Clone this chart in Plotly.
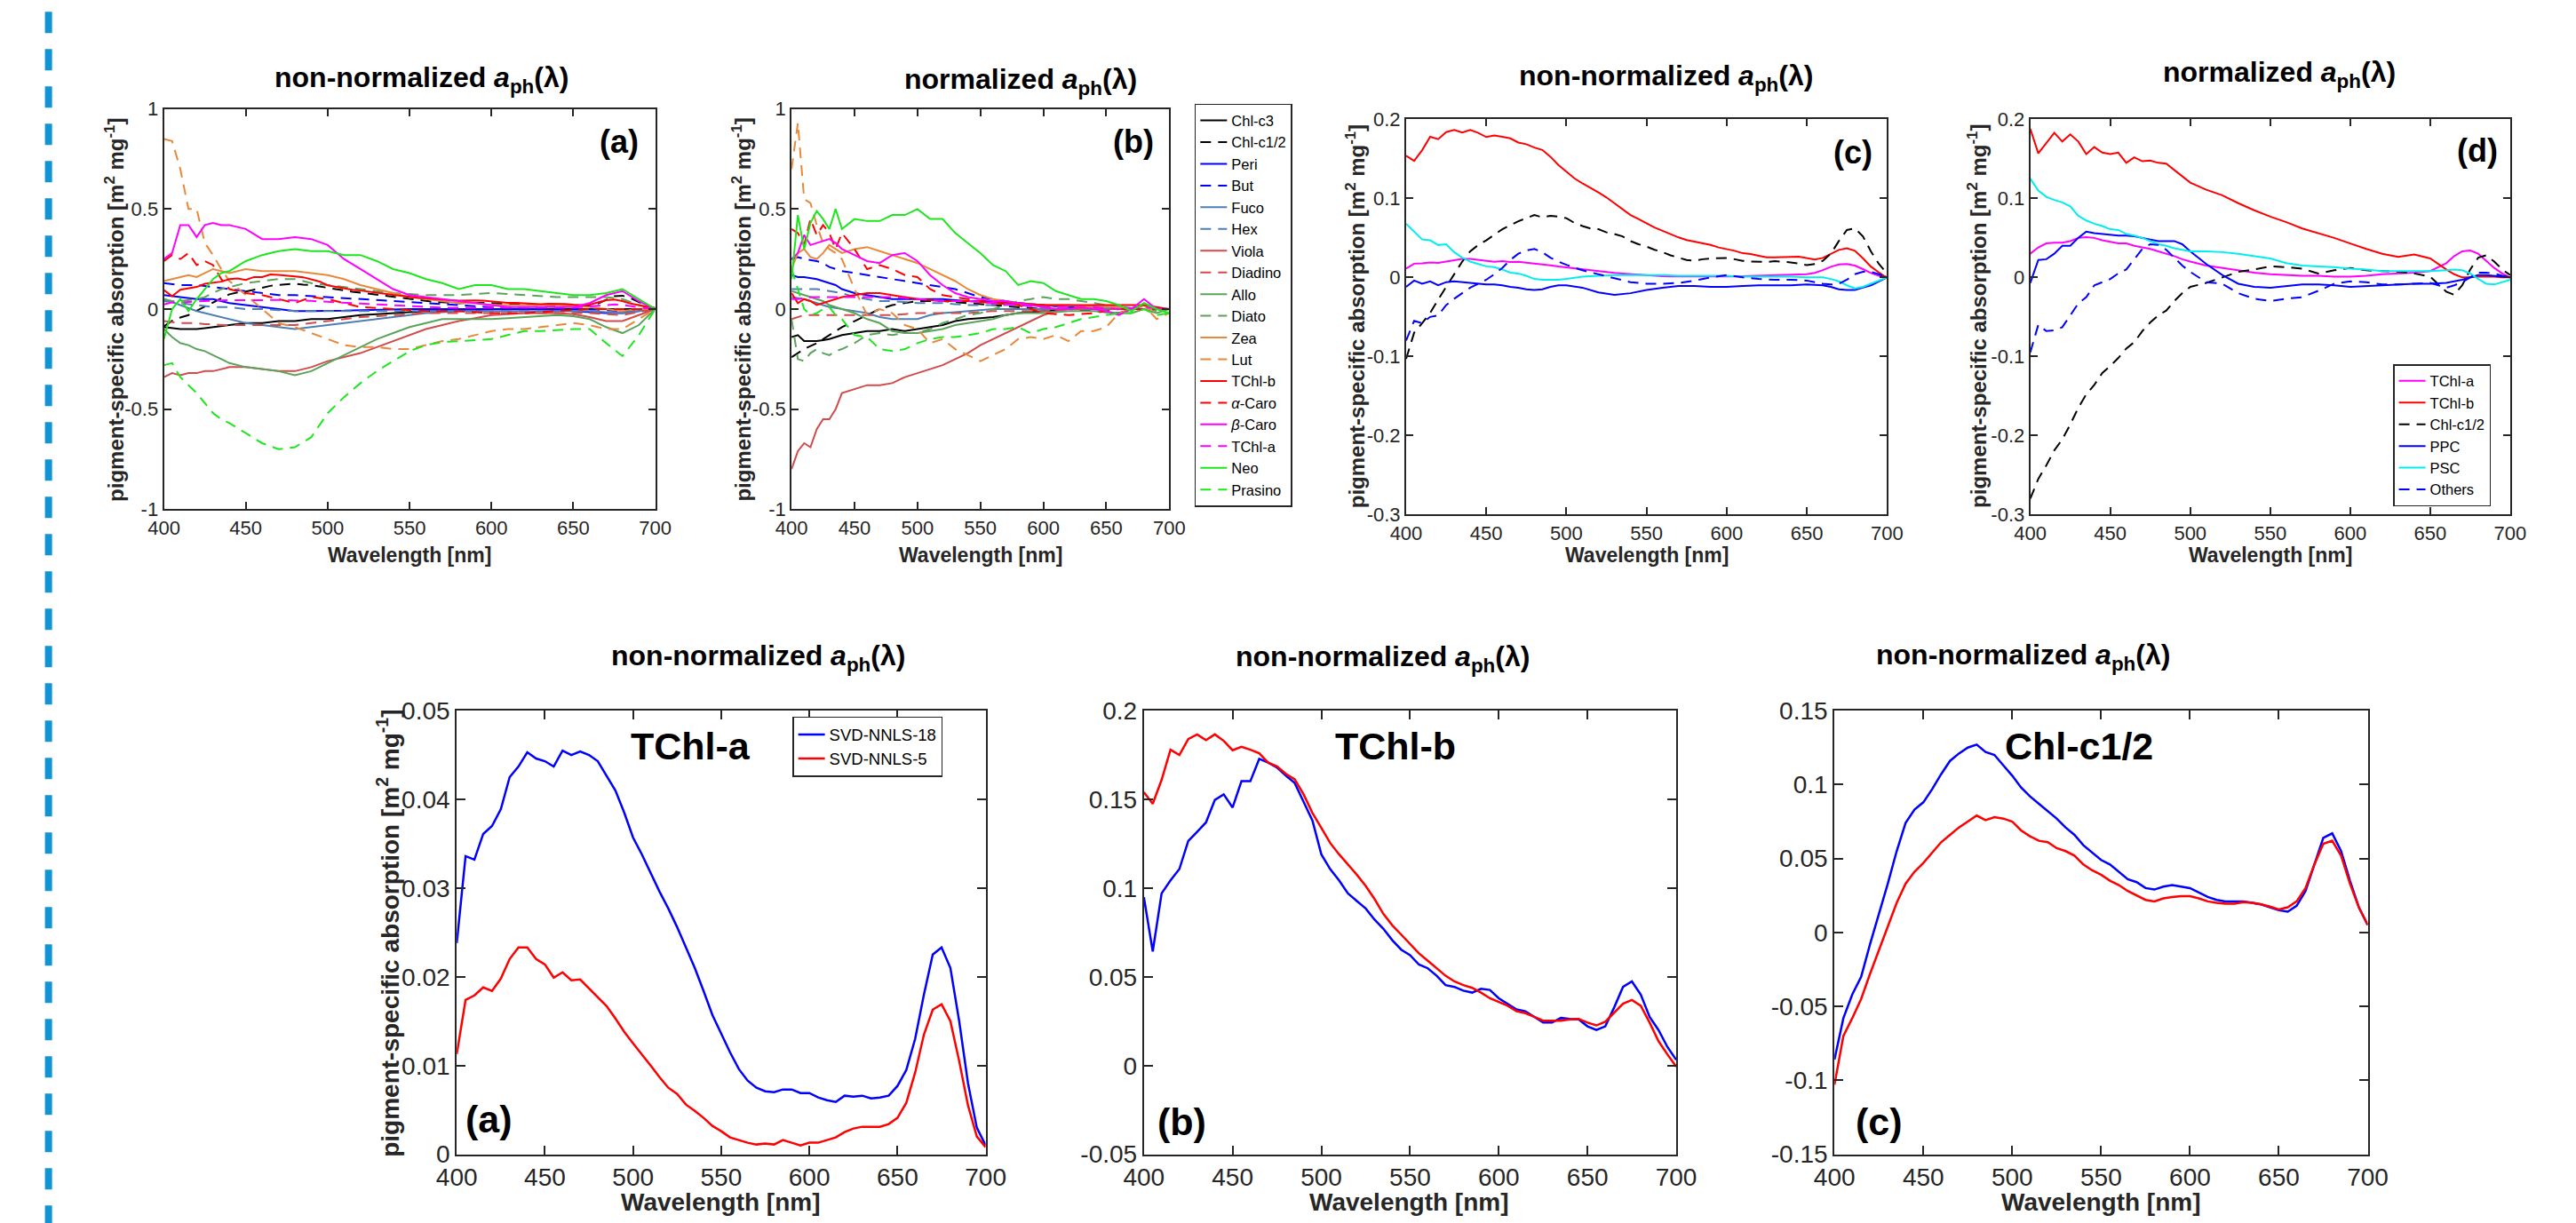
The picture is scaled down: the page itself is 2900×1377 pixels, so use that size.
import plotly.graph_objects as go

W, H = 2900, 1377
FONT = "Liberation Sans, Arial, Helvetica, sans-serif"
AXC = "#262626"

# ---------------- DATA ----------------
WL5 = list(range(400, 705, 5))
WL_AB = [400, 405, 410, 415, 420, 425, 430, 435, 440] + list(range(450, 710, 10))
WL_CD = list(range(400, 505, 5)) + list(range(510, 660, 10)) + [660, 665, 670, 675, 680, 685, 690, 695, 700]
X_TICKS = [400, 450, 500, 550, 600, 650, 700]

# SVD-NNLS-18 / SVD-NNLS-5 spectra (5 nm grid)
TCHLA_18 = [.0238, .0336, .0332, .0361, .0370, .0389, .0425, .0437, .0453, .0446,
            .0443, .0437, .0455, .0450, .0454, .0450, .0443, .0427, .0410, .0385,
            .0357, .0338, .0317, .0296, .0277, .0256, .0233, .0210, .0184, .0157,
            .0136, .0115, .0096, .0083, .0075, .0071, .0070, .0073, .0073, .0069,
            .0069, .0064, .0061, .0059, .0066, .0065, .0066, .0063, .0064, .0066,
            .0077, .0095, .0130, .0180, .0225, .0233, .0210, .0150, .0080, .0030,
            .0010]
TCHLA_5 = [.0113, .0174, .0179, .0188, .0184, .0198, .0220, .0233, .0233, .0220,
           .0214, .0199, .0205, .0196, .0197, .0187, .0178, .0167, .0153, .0138,
           .0125, .0113, .0100, .0087, .0075, .0068, .0056, .0049, .0041, .0032,
           .0026, .0019, .0016, .0013, .0011, .0012, .0011, .0016, .0013, .0010,
           .0013, .0013, .0016, .0019, .0025, .0029, .0031, .0031, .0031, .0034,
           .0041, .0058, .0092, .0135, .0163, .0169, .0150, .0105, .0055, .0020,
           .0008]
TCHLB_18 = [.0949, .0643, .0970, .1043, .1107, .1265, .1317, .1370, .1497, .1528,
            .1454, .1602, .1602, .1728, .1707, .1680, .1634, .1592, .1486, .1380,
            .1190, .1107, .1043, .0970, .0927, .0885, .0822, .0770, .0706, .0653,
            .0622, .0569, .0548, .0506, .0453, .0443, .0422, .0411, .0432, .0426,
            .0379, .0348, .0316, .0306, .0274, .0242, .0242, .0268, .0263, .0260,
            .0221, .0200, .0221, .0327, .0443, .0474, .0400, .0274, .0200, .0105,
            .0032]
TCHLB_5 = [.1540, .1475, .1610, .1780, .1750, .1840, .1866, .1834, .1866, .1830,
           .1777, .1796, .1780, .1760, .1707, .1686, .1644, .1613, .1528, .1423,
           .1339, .1254, .1190, .1134, .1075, .1012, .0938, .0854, .0790, .0738,
           .0685, .0632, .0590, .0548, .0506, .0474, .0453, .0438, .0411, .0379,
           .0358, .0337, .0306, .0295, .0274, .0253, .0253, .0253, .0260, .0263,
           .0242, .0226, .0247, .0295, .0348, .0369, .0337, .0242, .0137, .0063,
           -.0006]
CHLC12_18 = [-.086, -.058, -.042, -.030, -.008, .012, .033, .055, .074, .083,
             .088, .097, .107, .116, .121, .125, .127, .122, .120, .113,
             .106, .098, .092, .087, .082, .077, .071, .066, .059, .054,
             .049, .046, .041, .036, .034, .030, .029, .031, .032, .031,
             .030, .027, .024, .022, .021, .021, .021, .020, .019, .017,
             .015, .014, .018, .028, .046, .064, .067, .055, .035, .017,
             .005]
CHLC12_5 = [-.103, -.070, -.058, -.045, -.028, -.012, .003, .020, .033, .041,
            .047, .054, .061, .066, .071, .075, .079, .076, .078, .077,
            .075, .069, .065, .062, .061, .057, .055, .052, .046, .042,
            .039, .035, .032, .028, .025, .022, .021, .023, .024, .0245,
            .0245, .023, .021, .020, .0195, .0195, .0205, .020, .019, .0175,
            .0155, .017, .021, .030, .046, .060, .062, .052, .033, .017,
            .005]

# Panel (a): non-normalized, 18 pigments (WL_AB grid: 9 + 26 values)
A_CHLC3 = [-0.090, -0.095, -0.100, -0.100, -0.100, -0.095, -0.090, -0.085, -0.080,
           -0.070, -0.070, -0.060, -0.060, -0.050, -0.050, -0.040, -0.030, -0.025, -0.020, -0.015, -0.010, -0.010,
           -0.010, -0.005, 0.000, 0.000, 0.000, 0.000, 0.000, 0.000, 0.000, 0.000, 0.000, 0.000, 0.000]
A_PERI = [0.070, 0.065, 0.060, 0.055, 0.050, 0.050, 0.050, 0.040, 0.030,
          0.020, 0.010, 0.000, -0.010, -0.010, -0.010, -0.008, -0.005, -0.003, 0.000, 0.000, 0.000, 0.000,
          0.000, 0.000, 0.000, 0.000, 0.000, 0.000, -0.005, -0.010, -0.015, -0.020, -0.020, -0.010, 0.000]
A_BUT = [0.130, 0.125, 0.120, 0.120, 0.120, 0.115, 0.110, 0.105, 0.100,
         0.090, 0.080, 0.070, 0.070, 0.065, 0.060, 0.055, 0.050, 0.045, 0.040, 0.035, 0.030, 0.025,
         0.020, 0.015, 0.010, 0.010, 0.010, 0.005, 0.000, 0.000, 0.000, -0.005, -0.010, -0.005, 0.000]
A_FUCO = [0.050, 0.035, 0.020, 0.005, -0.010, -0.020, -0.030, -0.040, -0.050,
          -0.070, -0.080, -0.090, -0.100, -0.090, -0.080, -0.070, -0.060, -0.050, -0.040, -0.030, -0.020, -0.015,
          -0.010, -0.010, -0.010, -0.010, -0.010, -0.010, -0.010, -0.010, -0.010, -0.015, -0.020, -0.010, 0.000]
A_HEX = [0.040, 0.035, 0.030, 0.025, 0.020, 0.015, 0.010, 0.010, 0.010,
         0.000, 0.000, -0.005, -0.010, -0.010, -0.010, -0.010, -0.010, -0.010, -0.010, -0.010, -0.010, -0.010,
         -0.010, -0.010, -0.010, -0.010, -0.010, -0.010, -0.010, -0.010, -0.010, -0.015, -0.020, -0.010, 0.000]
A_VIOLA = [-0.340, -0.320, -0.330, -0.320, -0.320, -0.310, -0.310, -0.300, -0.290,
           -0.290, -0.300, -0.310, -0.310, -0.290, -0.260, -0.240, -0.220, -0.190, -0.160, -0.130, -0.100, -0.080,
           -0.060, -0.045, -0.030, -0.025, -0.020, -0.020, -0.020, -0.025, -0.040, -0.060, -0.060, -0.030, 0.000]
A_DIADINO = [-0.060, -0.065, -0.070, -0.070, -0.070, -0.075, -0.075, -0.080, -0.080,
             -0.080, -0.080, -0.080, -0.080, -0.070, -0.060, -0.050, -0.040, -0.035, -0.030, -0.025, -0.020, -0.020,
             -0.020, -0.020, -0.020, -0.020, -0.020, -0.020, -0.020, -0.020, -0.020, -0.025, -0.030, -0.015, 0.000]
A_ALLO = [-0.100, -0.140, -0.170, -0.180, -0.200, -0.210, -0.230, -0.250, -0.270,
          -0.290, -0.300, -0.310, -0.330, -0.310, -0.270, -0.230, -0.190, -0.150, -0.120, -0.090, -0.070, -0.050,
          -0.050, -0.050, -0.050, -0.045, -0.040, -0.035, -0.030, -0.035, -0.050, -0.090, -0.120, -0.080, 0.000]
A_DIATO = [0.050, 0.040, 0.040, 0.045, 0.050, 0.060, 0.080, 0.100, 0.110,
           0.130, 0.140, 0.150, 0.150, 0.130, 0.120, 0.110, 0.100, 0.090, 0.080, 0.075, 0.070, 0.070,
           0.070, 0.075, 0.080, 0.075, 0.070, 0.065, 0.060, 0.060, 0.060, 0.060, 0.050, 0.020, 0.000]
A_ZEA = [0.140, 0.150, 0.160, 0.170, 0.160, 0.180, 0.200, 0.190, 0.180,
         0.200, 0.190, 0.190, 0.190, 0.180, 0.170, 0.150, 0.120, 0.100, 0.080, 0.060, 0.050, 0.040,
         0.030, 0.030, 0.020, 0.020, 0.020, 0.020, 0.020, 0.015, 0.010, 0.000, -0.010, 0.000, 0.000]
A_LUT = [0.850, 0.840, 0.700, 0.500, 0.500, 0.330, 0.270, 0.200, 0.140,
         0.070, 0.000, -0.070, -0.090, -0.120, -0.150, -0.180, -0.190, -0.190, -0.200, -0.200, -0.180, -0.160,
         -0.150, -0.130, -0.110, -0.100, -0.100, -0.090, -0.080, -0.070, -0.080, -0.100, -0.100, -0.050, 0.000]
A_ACARO = [0.240, 0.270, 0.250, 0.280, 0.220, 0.240, 0.220, 0.150, 0.100,
           0.080, 0.070, 0.050, 0.030, 0.060, 0.050, 0.030, 0.010, 0.005, 0.000, -0.005, -0.010, -0.010,
           -0.010, -0.015, -0.020, -0.020, -0.020, -0.015, -0.010, -0.005, 0.000, 0.000, 0.000, 0.000, 0.000]
A_BCARO = [0.250, 0.280, 0.420, 0.420, 0.360, 0.420, 0.430, 0.420, 0.420,
           0.400, 0.350, 0.350, 0.360, 0.350, 0.320, 0.250, 0.200, 0.150, 0.100, 0.070, 0.060, 0.050,
           0.040, 0.030, 0.020, 0.010, 0.010, 0.010, 0.010, 0.010, 0.030, 0.070, 0.090, 0.040, 0.000]
A_NEO = [-0.150, 0.000, 0.050, -0.010, 0.050, 0.100, 0.150, 0.180, 0.190,
         0.240, 0.270, 0.290, 0.300, 0.290, 0.290, 0.270, 0.270, 0.240, 0.200, 0.180, 0.150, 0.130,
         0.100, 0.120, 0.120, 0.100, 0.100, 0.090, 0.080, 0.070, 0.070, 0.080, 0.100, 0.050, 0.000]
A_PRASINO = [-0.280, -0.270, -0.340, -0.380, -0.420, -0.470, -0.520, -0.550, -0.570,
             -0.620, -0.670, -0.700, -0.690, -0.640, -0.520, -0.440, -0.370, -0.310, -0.260, -0.210, -0.180, -0.165,
             -0.160, -0.155, -0.150, -0.130, -0.110, -0.110, -0.105, -0.100, -0.100, -0.170, -0.235, -0.130, 0.000]

# Panel (b): normalized, 18 pigments (WL_AB grid)
B_CHLC3 = [-0.140, -0.130, -0.160, -0.160, -0.160, -0.155, -0.150, -0.140, -0.130,
           -0.120, -0.110, -0.110, -0.100, -0.110, -0.100, -0.090, -0.080, -0.060, -0.050, -0.045, -0.040, -0.030,
           -0.020, -0.015, -0.010, -0.005, 0.000, 0.000, 0.000, 0.000, 0.000, 0.000, 0.000, 0.000, 0.000]
B_CHLC12 = [-0.240, -0.220, -0.200, -0.185, -0.170, -0.150, -0.130, -0.110, -0.090,
            -0.060, -0.030, 0.000, 0.020, 0.030, 0.040, 0.040, 0.040, 0.035, 0.030, 0.025, 0.020, 0.015,
            0.010, 0.005, 0.000, 0.000, 0.000, -0.005, -0.010, -0.015, -0.020, 0.000, 0.020, 0.000, 0.000]
B_PERI = [0.170, 0.160, 0.160, 0.155, 0.150, 0.140, 0.130, 0.120, 0.100,
          0.080, 0.070, 0.060, 0.050, 0.050, 0.050, 0.050, 0.050, 0.045, 0.040, 0.040, 0.040, 0.035,
          0.030, 0.025, 0.020, 0.015, 0.010, 0.010, 0.010, 0.010, 0.010, 0.005, 0.000, 0.000, 0.000]
B_BUT = [0.250, 0.260, 0.250, 0.245, 0.240, 0.230, 0.210, 0.200, 0.190,
         0.180, 0.170, 0.160, 0.150, 0.140, 0.130, 0.120, 0.110, 0.100, 0.080, 0.060, 0.050, 0.040,
         0.030, 0.025, 0.020, 0.015, 0.010, 0.010, 0.010, 0.005, 0.000, 0.000, 0.000, 0.000, 0.000]
B_FUCO = [0.060, 0.055, 0.050, 0.040, 0.030, 0.020, 0.010, 0.005, 0.000,
          -0.010, -0.020, -0.040, -0.050, -0.050, -0.050, -0.030, -0.020, -0.015, -0.010, -0.005, 0.000, 0.000,
          0.000, 0.000, 0.000, 0.000, 0.000, 0.000, 0.000, 0.000, 0.000, 0.000, 0.000, 0.000, 0.000]
B_HEX = [0.100, 0.100, 0.100, 0.100, 0.100, 0.095, 0.090, 0.085, 0.080,
         0.060, 0.050, 0.040, 0.040, 0.035, 0.030, 0.030, 0.030, 0.025, 0.020, 0.020, 0.020, 0.020,
         0.020, 0.015, 0.010, 0.010, 0.010, 0.010, 0.010, 0.005, 0.000, 0.000, 0.000, 0.000, 0.000]
B_VIOLA = [-0.800, -0.710, -0.670, -0.690, -0.600, -0.550, -0.550, -0.500, -0.420,
           -0.400, -0.380, -0.380, -0.370, -0.340, -0.320, -0.300, -0.280, -0.250, -0.220, -0.180, -0.150, -0.120,
           -0.090, -0.060, -0.030, -0.010, 0.000, 0.005, 0.010, 0.010, 0.010, 0.000, 0.000, 0.000, 0.000]
B_DIADINO = [-0.050, -0.040, -0.030, -0.030, -0.030, -0.030, -0.030, -0.030, -0.030,
             -0.030, -0.030, -0.030, -0.030, -0.025, -0.020, -0.020, -0.020, -0.020, -0.020, -0.015, -0.010, -0.010,
             -0.010, -0.010, -0.010, -0.005, 0.000, 0.000, 0.000, 0.000, 0.000, 0.000, 0.000, 0.000, 0.000]
B_ALLO = [0.090, 0.080, 0.070, 0.060, 0.050, 0.040, 0.020, 0.010, 0.000,
          -0.020, -0.050, -0.070, -0.110, -0.120, -0.120, -0.110, -0.100, -0.080, -0.070, -0.060, -0.050, -0.030,
          -0.020, -0.020, -0.020, -0.015, -0.010, -0.010, -0.010, -0.015, -0.020, -0.020, 0.000, -0.020, 0.000]
B_DIATO = [-0.050, -0.250, -0.260, -0.220, -0.200, -0.220, -0.230, -0.210, -0.200,
           -0.170, -0.130, -0.120, -0.130, -0.120, -0.120, -0.100, -0.070, -0.050, -0.030, -0.020, 0.000, 0.020,
           0.040, 0.050, 0.060, 0.050, 0.050, 0.040, 0.030, 0.020, 0.000, 0.000, 0.010, -0.010, 0.000]
B_ZEA = [0.200, 0.280, 0.300, 0.260, 0.250, 0.280, 0.320, 0.300, 0.280,
         0.300, 0.310, 0.290, 0.270, 0.250, 0.230, 0.200, 0.170, 0.140, 0.100, 0.070, 0.050, 0.040,
         0.030, 0.025, 0.020, 0.020, 0.020, 0.015, 0.010, 0.010, 0.010, 0.000, 0.000, 0.000, 0.000]
B_LUT = [0.700, 0.930, 0.550, 0.530, 0.420, 0.330, 0.300, 0.280, 0.250,
         0.100, -0.030, 0.000, -0.020, -0.080, -0.100, -0.170, -0.150, -0.200, -0.230, -0.260, -0.230, -0.200,
         -0.150, -0.140, -0.150, -0.130, -0.160, -0.110, -0.110, -0.090, -0.020, 0.000, 0.020, -0.050, -0.020]
B_TCHLB = [0.080, 0.030, 0.050, 0.040, 0.020, 0.030, 0.040, 0.050, 0.060,
           0.070, 0.080, 0.080, 0.070, 0.060, 0.050, 0.045, 0.040, 0.040, 0.040, 0.035, 0.030, 0.030,
           0.030, 0.025, 0.020, 0.020, 0.020, 0.020, 0.020, 0.020, 0.020, 0.020, 0.020, 0.010, 0.000]
B_ACARO = [0.400, 0.380, 0.320, 0.450, 0.370, 0.420, 0.380, 0.300, 0.380,
           0.300, 0.200, 0.220, 0.200, 0.170, 0.160, 0.100, 0.070, 0.060, 0.050, 0.040, 0.030, 0.025,
           0.020, 0.000, -0.020, -0.025, -0.030, -0.025, -0.020, -0.010, 0.000, 0.000, 0.000, 0.000, 0.000]
B_BCARO = [0.250, 0.280, 0.370, 0.320, 0.330, 0.340, 0.350, 0.330, 0.300,
           0.270, 0.240, 0.230, 0.270, 0.280, 0.240, 0.170, 0.120, 0.080, 0.060, 0.050, 0.040, 0.040,
           0.030, 0.020, 0.010, 0.000, 0.000, 0.010, 0.000, -0.010, -0.030, 0.000, 0.050, 0.000, 0.000]
B_TCHLA = [0.050, 0.050, 0.055, 0.060, 0.060, 0.060, 0.060, 0.060, 0.060,
           0.060, 0.060, 0.060, 0.060, 0.055, 0.050, 0.045, 0.040, 0.040, 0.040, 0.035, 0.030, 0.025,
           0.020, 0.015, 0.010, 0.010, 0.010, 0.010, 0.010, 0.005, 0.000, 0.005, 0.010, 0.005, 0.000]
B_NEO = [0.150, 0.470, 0.300, 0.430, 0.490, 0.450, 0.400, 0.500, 0.400,
         0.450, 0.440, 0.440, 0.470, 0.470, 0.500, 0.450, 0.450, 0.380, 0.330, 0.280, 0.220, 0.190,
         0.120, 0.140, 0.130, 0.090, 0.070, 0.050, 0.050, 0.040, 0.020, -0.010, 0.030, 0.000, -0.020]
B_PRASINO = [0.200, 0.100, 0.000, -0.030, -0.020, 0.000, 0.010, -0.030, -0.050,
             -0.130, -0.140, -0.200, -0.210, -0.200, -0.170, -0.150, -0.140, -0.140, -0.130, -0.120, -0.100, -0.100,
             -0.090, -0.120, -0.100, -0.090, -0.070, -0.050, -0.040, -0.030, -0.020, -0.020, 0.000, -0.030, -0.020]

# Panels (c) and (d): pigment groups (WL_CD grid: 21 + 15 + 9 values)
PPC_C = [-0.012, -0.004, -0.008, -0.005, -0.010, -0.006, -0.005, -0.006, -0.007, -0.008, -0.009,
         -0.009, -0.010, -0.012, -0.013, -0.015, -0.016, -0.015, -0.012, -0.010, -0.010,
         -0.013, -0.019, -0.022, -0.020, -0.016, -0.013, -0.011, -0.011, -0.012, -0.012, -0.011, -0.010, -0.010, -0.010, -0.009,
         -0.010, -0.012, -0.015, -0.016, -0.016, -0.013, -0.010, -0.005, 0.000]
PSC_C = [0.068, 0.058, 0.048, 0.047, 0.041, 0.042, 0.032, 0.025, 0.020, 0.017, 0.014,
         0.013, 0.010, 0.006, 0.005, 0.002, -0.002, -0.003, -0.003, -0.003, -0.002,
         0.001, 0.002, 0.003, 0.003, 0.003, 0.003, 0.002, 0.002, 0.002, 0.002, 0.001, 0.001, 0.001, 0.001, 0.000,
         0.000, -0.002, -0.005, -0.010, -0.014, -0.012, -0.008, -0.004, 0.000]
OTHERS_C = [-0.080, -0.055, -0.058, -0.050, -0.048, -0.035, -0.027, -0.020, -0.013, -0.008, -0.003,
            0.004, 0.012, 0.022, 0.030, 0.034, 0.036, 0.032, 0.025, 0.020, 0.016,
            0.009, 0.004, -0.001, -0.006, -0.008, -0.008, -0.007, -0.004, 0.000, 0.003, 0.000, -0.002, -0.003, -0.003, -0.004,
            -0.008, -0.009, -0.008, -0.003, 0.004, 0.007, 0.007, 0.004, 0.000]
TCHLA_D = [0.030, 0.038, 0.043, 0.044, 0.044, 0.046, 0.050, 0.051, 0.050, 0.047, 0.045,
           0.043, 0.043, 0.040, 0.038, 0.036, 0.033, 0.030, 0.027, 0.023, 0.020,
           0.015, 0.012, 0.009, 0.006, 0.004, 0.003, 0.002, 0.002, 0.001, 0.001, 0.002, 0.004, 0.005, 0.006, 0.008,
           0.018, 0.027, 0.033, 0.034, 0.030, 0.021, 0.012, 0.005, 0.000]
TCHLB_D = [0.188, 0.157, 0.170, 0.183, 0.172, 0.181, 0.172, 0.156, 0.165, 0.158, 0.156,
           0.158, 0.145, 0.152, 0.147, 0.148, 0.145, 0.144, 0.136, 0.128, 0.120,
           0.111, 0.104, 0.094, 0.085, 0.077, 0.070, 0.062, 0.056, 0.050, 0.043, 0.036, 0.030, 0.026, 0.029, 0.024,
           0.010, 0.004, 0.000, 0.000, 0.001, 0.001, 0.001, 0.000, 0.000]
CHLC12_D = [-0.280, -0.255, -0.238, -0.219, -0.205, -0.186, -0.165, -0.148, -0.136, -0.121, -0.112,
            -0.102, -0.090, -0.082, -0.068, -0.057, -0.048, -0.042, -0.030, -0.020, -0.012,
            -0.007, 0.000, 0.007, 0.010, 0.014, 0.013, 0.011, 0.005, 0.009, 0.012, 0.009, 0.008, 0.007, 0.005, 0.001,
            -0.018, -0.022, -0.010, 0.010, 0.025, 0.028, 0.020, 0.010, 0.003]
PPC_D = [-0.007, 0.022, 0.023, 0.030, 0.040, 0.040, 0.050, 0.058, 0.056, 0.055, 0.054,
         0.053, 0.053, 0.052, 0.050, 0.048, 0.046, 0.046, 0.046, 0.042, 0.033,
         0.017, 0.003, -0.008, -0.012, -0.013, -0.011, -0.009, -0.009, -0.010, -0.012, -0.011, -0.010, -0.009, -0.008, -0.008,
         -0.007, -0.005, -0.003, 0.000, 0.003, 0.003, 0.002, 0.001, 0.000]
PSC_D = [0.125, 0.110, 0.102, 0.098, 0.095, 0.090, 0.078, 0.072, 0.068, 0.065, 0.061,
         0.060, 0.055, 0.053, 0.050, 0.046, 0.042, 0.040, 0.037, 0.035, 0.033,
         0.033, 0.032, 0.030, 0.027, 0.024, 0.018, 0.015, 0.014, 0.013, 0.011, 0.010, 0.008, 0.008, 0.008, 0.008,
         0.009, 0.010, 0.009, 0.005, -0.002, -0.008, -0.009, -0.006, -0.003]
OTHERS_D = [-0.095, -0.060, -0.068, -0.067, -0.063, -0.048, -0.033, -0.025, -0.010, -0.006, -0.002,
            0.005, 0.010, 0.023, 0.036, 0.042, 0.041, 0.035, 0.025, 0.015, 0.007,
            -0.006, -0.008, -0.020, -0.027, -0.030, -0.027, -0.025, -0.017, -0.008, -0.005, -0.006, -0.009, -0.009, -0.008, -0.007,
            -0.013, -0.010, -0.006, 0.000, 0.006, 0.006, 0.005, 0.002, 0.000]

PIGMENTS = ["Chl-c3", "Chl-c1/2", "Peri", "But", "Fuco", "Hex", "Viola", "Diadino", "Allo",
            "Diato", "Zea", "Lut", "TChl-b", "<i>α</i>-Caro", "<i>β</i>-Caro", "TChl-a", "Neo", "Prasino"]
A_VALUES = [A_CHLC3, CHLC12_18, A_PERI, A_BUT, A_FUCO, A_HEX, A_VIOLA, A_DIADINO, A_ALLO,
            A_DIATO, A_ZEA, A_LUT, TCHLB_18, A_ACARO, A_BCARO, TCHLA_18, A_NEO, A_PRASINO]
A_GRIDS = [WL_AB, WL5, WL_AB, WL_AB, WL_AB, WL_AB, WL_AB, WL_AB, WL_AB,
           WL_AB, WL_AB, WL_AB, WL5, WL_AB, WL_AB, WL5, WL_AB, WL_AB]
B_VALUES = [B_CHLC3, B_CHLC12, B_PERI, B_BUT, B_FUCO, B_HEX, B_VIOLA, B_DIADINO, B_ALLO,
            B_DIATO, B_ZEA, B_LUT, B_TCHLB, B_ACARO, B_BCARO, B_TCHLA, B_NEO, B_PRASINO]

GROUPS = ["TChl-a", "TChl-b", "Chl-c1/2", "PPC", "PSC", "Others"]
C_VALUES = [TCHLA_5, TCHLB_5, CHLC12_5, PPC_C, PSC_C, OTHERS_C]
C_GRIDS = [WL5, WL5, WL5, WL_CD, WL_CD, WL_CD]
D_VALUES = [TCHLA_D, TCHLB_D, CHLC12_D, PPC_D, PSC_D, OTHERS_D]

METHODS = ["SVD-NNLS-18", "SVD-NNLS-5"]
BOTTOM = [("TChl-a", TCHLA_18, TCHLA_5), ("TChl-b", TCHLB_18, TCHLB_5), ("Chl-c1/2", CHLC12_18, CHLC12_5)]

# ---------------- STYLE ----------------
PIG_COLORS = ["#000000", "#0000ff", "#4d7fb5", "#d24b4b", "#5ba35b", "#e8883a", "#ff0000", "#ff00ff", "#1ee61e"]
GROUP_STYLE = [("#ff00ff", "solid"), ("#ff0000", "solid"), ("#000000", "dash"),
               ("#0000ff", "solid"), ("#00eeee", "solid"), ("#0000ff", "dash")]
METHOD_COLORS = ["#0000ff", "#ff0000"]
DASH = "12px,8px"


def fx(px):
    return px / W


def fy(py):
    return 1 - py / H


fig = go.Figure()


def add(x, y, ax, color, dash, width, name, showlegend, legend=None):
    fig.add_trace(go.Scatter(
        x=x, y=y, mode="lines", name=name, xaxis="x" + ax, yaxis="y" + ax,
        line=dict(color=color, width=width, dash=(DASH if dash == "dash" else "solid")),
        showlegend=showlegend, legend=legend, hoverinfo="skip"))


# panel (a) and (b)
for i, name in enumerate(PIGMENTS):
    col = PIG_COLORS[i // 2]
    dsh = "solid" if i % 2 == 0 else "dash"
    add(A_GRIDS[i], A_VALUES[i], "1", col, dsh, 2, name, False)
for i, name in enumerate(PIGMENTS):
    col = PIG_COLORS[i // 2]
    dsh = "solid" if i % 2 == 0 else "dash"
    add(WL_AB, B_VALUES[i], "2", col, dsh, 2, name, True, "legend")
# panel (c) and (d)
for i, name in enumerate(GROUPS):
    col, dsh = GROUP_STYLE[i]
    add(C_GRIDS[i], C_VALUES[i], "3", col, dsh, 2, name, False)
for i, name in enumerate(GROUPS):
    col, dsh = GROUP_STYLE[i]
    add(WL_CD, D_VALUES[i], "4", col, dsh, 2, name, True, "legend2")
# bottom row
for k, (pig, v18, v5) in enumerate(BOTTOM):
    ax = str(5 + k)
    add(WL5, v18, ax, METHOD_COLORS[0], "solid", 2.5, METHODS[0], k == 0, "legend3")
    add(WL5, v5, ax, METHOD_COLORS[1], "solid", 2.5, METHODS[1], k == 0, "legend3")

# ---------------- AXES ----------------
PANELS = [
    # (x0, x1, y0, y1, yrange, yticks, yticktext, tickfont, ticklen)
    (156, 718, 102, 563, [-1, 1], [-1, -0.5, 0, 0.5, 1], ["-1", "-0.5", "0", "0.5", "1"], 22, 8),
    (874, 1306, 102, 563, [-1, 1], [-1, -0.5, 0, 0.5, 1], ["-1", "-0.5", "0", "0.5", "1"], 22, 8),
    (1577, 2127, 114, 569, [-0.3, 0.2], [-0.3, -0.2, -0.1, 0, 0.1, 0.2], ["-0.3", "-0.2", "-0.1", "0", "0.1", "0.2"], 22, 8),
    (2291, 2840, 114, 569, [-0.3, 0.2], [-0.3, -0.2, -0.1, 0, 0.1, 0.2], ["-0.3", "-0.2", "-0.1", "0", "0.1", "0.2"], 22, 8),
    (491, 1096, 795, 1306, [0, 0.05], [0, 0.01, 0.02, 0.03, 0.04, 0.05], ["0", "0.01", "0.02", "0.03", "0.04", "0.05"], 28, 10),
    (1277, 1886, 795, 1306, [-0.05, 0.2], [-0.05, 0, 0.05, 0.1, 0.15, 0.2], ["-0.05", "0", "0.05", "0.1", "0.15", "0.2"], 28, 10),
    (2067, 2677, 795, 1306, [-0.15, 0.15], [-0.15, -0.1, -0.05, 0, 0.05, 0.1, 0.15],
     ["-0.15", "-0.1", "-0.05", "0", "0.05", "0.1", "0.15"], 28, 10),
]

layout = dict(
    width=W, height=H, margin=dict(l=0, r=0, t=0, b=0),
    paper_bgcolor="white", plot_bgcolor="white",
    font=dict(family=FONT, color=AXC),
)
for n, (x0, x1, y0, y1, yr, yt, ytt, tf, tl) in enumerate(PANELS, start=1):
    sfx = "" if n == 1 else str(n)
    common = dict(showline=True, linecolor=AXC, linewidth=2, mirror="ticks", ticks="inside",
                  ticklen=tl, tickwidth=1.5, tickcolor=AXC, showgrid=False, zeroline=False,
                  tickfont=dict(family=FONT, size=tf, color=AXC))
    layout["xaxis" + sfx] = dict(domain=[fx(x0), fx(x1)], anchor="y" + str(n), range=[400, 700],
                                 tickvals=X_TICKS, ticktext=[str(t) for t in X_TICKS], **common)
    layout["yaxis" + sfx] = dict(domain=[fy(y1), fy(y0)], anchor="x" + str(n), range=yr,
                                 tickvals=yt, ticktext=ytt, **common)

LEG = dict(xanchor="left", yanchor="top", bgcolor="white", bordercolor=AXC, borderwidth=1.5,
           tracegroupgap=0)
layout["legend"] = dict(x=fx(1335), y=fy(96), font=dict(family=FONT, size=16.5, color="#000"), **LEG)
layout["legend2"] = dict(x=fx(2706), y=fy(396), font=dict(family=FONT, size=16.5, color="#000"), **LEG)
layout["legend3"] = dict(x=fx(875), y=fy(802), font=dict(family=FONT, size=18.5, color="#000"), **LEG)

# ---------------- TEXT ----------------
NONNORM = "<b>non-normalized <i>a</i><sub>ph</sub>(λ)</b>"
NORM = "<b>normalized <i>a</i><sub>ph</sub>(λ)</b>"
YTITLE = "<b>pigment-specific absorption [m<sup>2</sup> mg<sup>-1</sup>]</b>"
XTITLE = "<b>Wavelength [nm]</b>"

ann = []


def text(s, x, y, size, angle=0, color="#000"):
    ann.append(dict(text=s, x=fx(x), y=fy(y), xref="paper", yref="paper", showarrow=False,
                    xanchor="center", yanchor="middle", textangle=angle,
                    font=dict(family=FONT, size=size, color=color)))


# panel titles
text(NONNORM, 451, 68, 32)
text(NORM, 1136, 70, 32)
text(NONNORM, 1874, 66, 32)
text(NORM, 2576, 62, 32)
text(NONNORM, 836, 734, 32)
text(NONNORM, 1550, 735, 32)
text(NONNORM, 2283, 733, 32)
# axis titles
for cx in (437, 1090, 1852, 2566):
    text(XTITLE, cx, 616, 23, color=AXC)
for cx in (793, 1581, 2372):
    text(XTITLE, cx, 1361, 28, color=AXC)
text(YTITLE, 99, 333, 24, -90, AXC)
text(YTITLE, 816, 333, 24, -90, AXC)
text(YTITLE, 1519, 341, 24, -90, AXC)
text(YTITLE, 2231, 341, 24, -90, AXC)
text(YTITLE, 413, 1051, 28, -90, AXC)
# panel labels
for s, x, y in (("(a)", 677, 140), ("(b)", 1265, 140), ("(c)", 2088, 152), ("(d)", 2802, 150)):
    text("<b>" + s + "</b>", x, y, 36)
for s, x, y in (("(a)", 528, 1266), ("(b)", 1320, 1269), ("(c)", 2118, 1269)):
    text("<b>" + s + "</b>", x, y, 43)
for s, x in (("TChl-a", 759), ("TChl-b", 1565), ("Chl-c1/2", 2347)):
    text("<b>" + s + "</b>", x, 836, 43)

layout["annotations"] = ann
layout["shapes"] = [dict(type="line", xref="paper", yref="paper", x0=fx(24), x1=fx(24),
                         y0=fy(-10), y1=fy(H + 50), line=dict(color="#1194d3", width=8, dash="24px,18px"))]

fig.update_layout(**layout)
fig.write_html("out.html")
